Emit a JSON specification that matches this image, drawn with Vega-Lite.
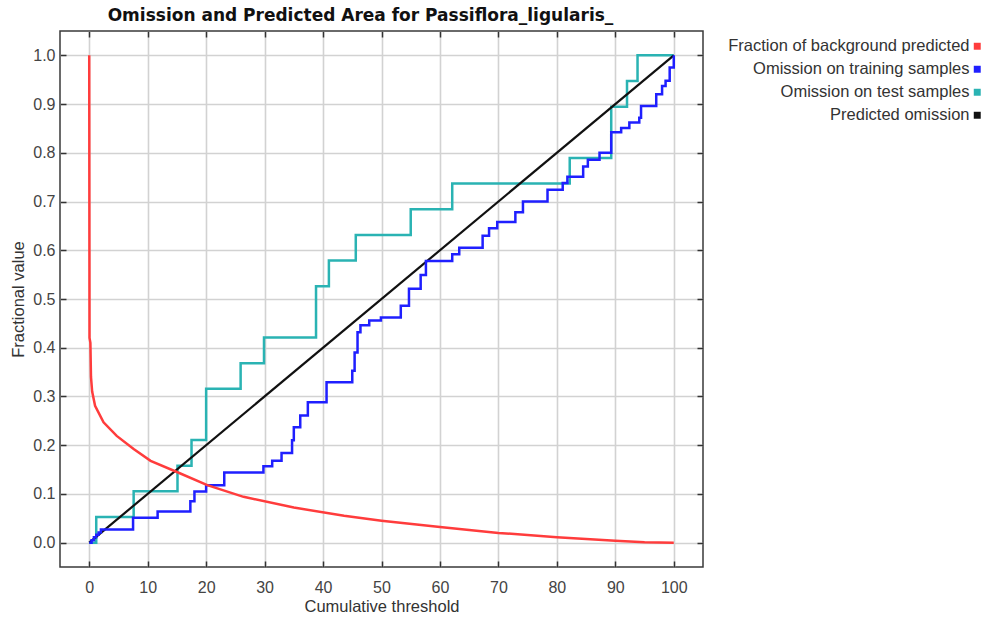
{
  "$schema": "https://vega.github.io/schema/vega-lite/v6.json",
  "width": 643,
  "height": 536,
  "autosize": {"type": "none"},
  "padding": {"left": 60, "top": 31, "right": 285, "bottom": 54},
  "background": "white",
  "title": {"text": "Omission and Predicted Area for Passiflora_ligularis_", "font": "DejaVu Sans", "fontSize": 17, "fontWeight": "bold", "color": "#111111", "anchor": "middle", "offset": 5, "dx": -21},
  "config": {
    "view": {"stroke": "#3a3a3a", "strokeWidth": 1.5},
    "axis": {"labelFont": "Liberation Sans", "labelFontSize": 16, "labelColor": "#444444", "titleFont": "Liberation Sans", "titleFontSize": 16.5, "titleFontWeight": "normal", "titleColor": "#333333", "gridColor": "#d2d2d2", "gridWidth": 1.6, "domain": false, "tickColor": "#333333", "tickWidth": 1.5, "tickSize": -6}
  },
  "datasets": {
    "test": [
      {"t": 0, "v": 0}, {"t": 1.2, "v": 0.0526}, {"t": 7.6, "v": 0.1053}, {"t": 15.1, "v": 0.1579}, {"t": 17.5, "v": 0.2105}, {"t": 20.0, "v": 0.3158}, {"t": 25.9, "v": 0.3684}, {"t": 29.9, "v": 0.4211}, {"t": 38.8, "v": 0.5263}, {"t": 41.0, "v": 0.5789}, {"t": 45.6, "v": 0.6316}, {"t": 55.0, "v": 0.6842}, {"t": 62.1, "v": 0.7368}, {"t": 82.2, "v": 0.7895}, {"t": 89.3, "v": 0.8947}, {"t": 92.0, "v": 0.9474}, {"t": 93.8, "v": 1.0}, {"t": 100, "v": 1.0}
    ],
    "pred": [{"t": 0, "v": 0}, {"t": 100, "v": 1}],
    "train": [
      {"t": 0, "v": 0}, {"t": 0.4, "v": 0.005}, {"t": 0.8, "v": 0.011}, {"t": 1.2, "v": 0.016}, {"t": 1.6, "v": 0.021}, {"t": 2.0, "v": 0.027}, {"t": 7.5, "v": 0.051}, {"t": 11.7, "v": 0.064}, {"t": 17.3, "v": 0.085}, {"t": 18.0, "v": 0.105}, {"t": 20.0, "v": 0.118}, {"t": 23.1, "v": 0.144}, {"t": 29.8, "v": 0.157}, {"t": 31.3, "v": 0.168}, {"t": 32.9, "v": 0.184}, {"t": 34.7, "v": 0.21}, {"t": 35.0, "v": 0.237}, {"t": 36.1, "v": 0.261}, {"t": 37.4, "v": 0.288}, {"t": 40.6, "v": 0.329}, {"t": 45.0, "v": 0.353}, {"t": 45.4, "v": 0.39}, {"t": 45.9, "v": 0.432}, {"t": 46.4, "v": 0.446}, {"t": 47.9, "v": 0.456}, {"t": 49.9, "v": 0.462}, {"t": 53.3, "v": 0.486}, {"t": 54.7, "v": 0.521}, {"t": 56.7, "v": 0.549}, {"t": 57.6, "v": 0.578}, {"t": 62.1, "v": 0.592}, {"t": 63.3, "v": 0.605}, {"t": 67.3, "v": 0.63}, {"t": 68.4, "v": 0.645}, {"t": 69.8, "v": 0.658}, {"t": 72.9, "v": 0.678}, {"t": 74.2, "v": 0.7}, {"t": 78.4, "v": 0.724}, {"t": 81.0, "v": 0.738}, {"t": 81.8, "v": 0.751}, {"t": 84.5, "v": 0.772}, {"t": 85.3, "v": 0.786}, {"t": 87.3, "v": 0.8}, {"t": 89.3, "v": 0.842}, {"t": 91.0, "v": 0.851}, {"t": 92.4, "v": 0.862}, {"t": 94.1, "v": 0.872}, {"t": 94.4, "v": 0.896}, {"t": 97.0, "v": 0.92}, {"t": 98.0, "v": 0.937}, {"t": 98.6, "v": 0.948}, {"t": 99.3, "v": 0.975}, {"t": 100, "v": 1.0}
    ],
    "bg": [
      {"t": 0, "v": 1.0}, {"t": 0.05, "v": 0.42}, {"t": 0.2, "v": 0.41}, {"t": 0.3, "v": 0.34}, {"t": 0.5, "v": 0.31}, {"t": 1.0, "v": 0.281}, {"t": 2.45, "v": 0.247}, {"t": 4.7, "v": 0.219}, {"t": 7.6, "v": 0.192}, {"t": 10.5, "v": 0.168}, {"t": 15.0, "v": 0.145}, {"t": 20.2, "v": 0.118}, {"t": 26.4, "v": 0.094}, {"t": 35.0, "v": 0.072}, {"t": 43.6, "v": 0.055}, {"t": 50.0, "v": 0.045}, {"t": 60.0, "v": 0.032}, {"t": 70.0, "v": 0.02}, {"t": 80.0, "v": 0.011}, {"t": 90.0, "v": 0.004}, {"t": 95.0, "v": 0.001}, {"t": 100.0, "v": 0.0}
    ]
  },
  "resolve": {"axis": {"x": "independent", "y": "independent"}},
  "layer": [
    {
      "data": {"name": "test"},
      "mark": {"type": "line", "interpolate": "step-after", "strokeWidth": 2.5},
      "encoding": {
        "x": {"field": "t", "type": "quantitative", "scale": {"domain": [-5, 105], "nice": false, "zero": false},
          "axis": {"orient": "bottom", "values": [0, 10, 20, 30, 40, 50, 60, 70, 80, 90, 100], "grid": true, "labelPadding": 18, "title": "Cumulative threshold", "titlePadding": 3}},
        "y": {"field": "v", "type": "quantitative", "scale": {"domain": [-0.05, 1.05], "nice": false, "zero": false},
          "axis": {"orient": "left", "values": [0, 0.1, 0.2, 0.3, 0.4, 0.5, 0.6, 0.7, 0.8, 0.9, 1.0], "format": ".1f", "grid": true, "labelPadding": 11, "title": "Fractional value", "titlePadding": 6}},
        "color": {"datum": "Omission on test samples", "type": "nominal",
          "scale": {"domain": ["Fraction of background predicted", "Omission on training samples", "Omission on test samples", "Predicted omission"], "range": ["#ff3c3c", "#1f1fff", "#2ab3b3", "#111111"]},
          "legend": {"title": null, "orient": "none", "legendX": 909, "legendY": 7, "symbolType": "square", "symbolSize": 12, "symbolStrokeWidth": 3.5, "labelAlign": "right", "labelOffset": -16, "labelLimit": 0, "labelFont": "Liberation Sans", "labelFontSize": 16.5, "labelColor": "#333333", "rowPadding": 5}}
      }
    },
    {
      "data": {"name": "pred"},
      "mark": {"type": "line", "strokeWidth": 2.2},
      "encoding": {
        "x": {"field": "t", "type": "quantitative", "axis": {"orient": "top", "values": [0, 10, 20, 30, 40, 50, 60, 70, 80, 90, 100], "labels": false, "grid": false, "title": null}},
        "y": {"field": "v", "type": "quantitative", "axis": {"orient": "right", "values": [0, 0.1, 0.2, 0.3, 0.4, 0.5, 0.6, 0.7, 0.8, 0.9, 1.0], "labels": false, "grid": false, "title": null}},
        "color": {"datum": "Predicted omission", "type": "nominal"}
      }
    },
    {
      "data": {"name": "train"},
      "mark": {"type": "line", "interpolate": "step-after", "strokeWidth": 2.5},
      "encoding": {
        "x": {"field": "t", "type": "quantitative", "axis": null},
        "y": {"field": "v", "type": "quantitative", "axis": null},
        "color": {"datum": "Omission on training samples", "type": "nominal"}
      }
    },
    {
      "data": {"name": "bg"},
      "mark": {"type": "line", "strokeWidth": 2.5},
      "encoding": {
        "x": {"field": "t", "type": "quantitative", "axis": null},
        "y": {"field": "v", "type": "quantitative", "axis": null},
        "color": {"datum": "Fraction of background predicted", "type": "nominal"}
      }
    }
  ]
}
